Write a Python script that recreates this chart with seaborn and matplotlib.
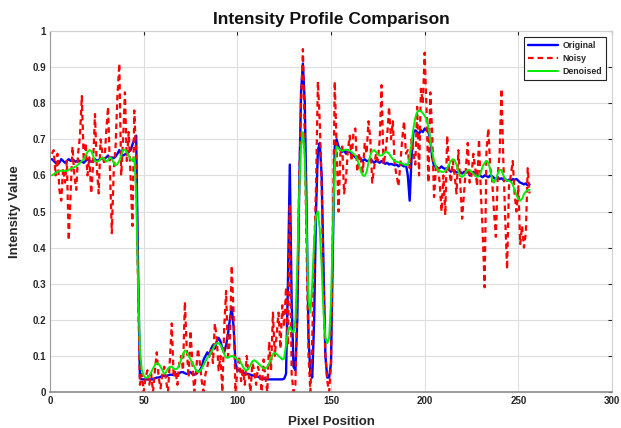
import numpy as np
import pandas as pd
import matplotlib
matplotlib.use("Agg")
import matplotlib.pyplot as plt
import seaborn as sns

pixel = list(range(1, 257))

original = [
    0.645, 0.64, 0.635, 0.63, 0.635, 0.645, 0.64, 0.635, 0.64, 0.645,
    0.64, 0.645, 0.64, 0.638, 0.642, 0.64, 0.638, 0.635, 0.64, 0.645,
    0.64, 0.638, 0.64, 0.645, 0.64, 0.643, 0.645, 0.648, 0.645, 0.65,
    0.655, 0.645, 0.65, 0.648, 0.652, 0.66, 0.67, 0.66, 0.655, 0.658,
    0.66, 0.665, 0.67, 0.685, 0.70, 0.71, 0.35, 0.04, 0.035, 0.035,
    0.035, 0.035, 0.035, 0.035, 0.035, 0.038, 0.04, 0.04, 0.042, 0.045,
    0.045, 0.044, 0.046, 0.048, 0.048, 0.047, 0.05, 0.05, 0.052, 0.055,
    0.055, 0.052, 0.05, 0.052, 0.055, 0.05, 0.048, 0.05, 0.055, 0.06,
    0.07, 0.09, 0.10, 0.11, 0.10, 0.12, 0.13, 0.12, 0.14, 0.15,
    0.14, 0.12, 0.11, 0.13, 0.16, 0.20, 0.235, 0.18, 0.08, 0.06,
    0.06, 0.058, 0.055, 0.052, 0.05, 0.05, 0.048, 0.046, 0.045, 0.044,
    0.042, 0.04, 0.038, 0.037, 0.036, 0.035, 0.035, 0.035, 0.035, 0.035,
    0.035, 0.035, 0.035, 0.035, 0.037, 0.05, 0.30, 0.63, 0.25, 0.07,
    0.06, 0.20, 0.55, 0.83, 0.91, 0.80, 0.50, 0.15, 0.05, 0.04,
    0.20, 0.50, 0.67, 0.69, 0.60, 0.35, 0.10, 0.04, 0.04, 0.08,
    0.40, 0.68, 0.70, 0.68, 0.67, 0.665, 0.67, 0.66, 0.67, 0.665,
    0.66, 0.655, 0.65, 0.648, 0.652, 0.645, 0.64, 0.645, 0.64, 0.64,
    0.645, 0.64, 0.635, 0.64, 0.638, 0.635, 0.64, 0.635, 0.632, 0.635,
    0.63, 0.632, 0.63, 0.628, 0.63, 0.625, 0.63, 0.628, 0.625, 0.63,
    0.60, 0.53, 0.65, 0.72, 0.725, 0.72, 0.715, 0.725, 0.72, 0.73,
    0.725, 0.72, 0.70, 0.65, 0.625, 0.625, 0.62, 0.62, 0.625, 0.62,
    0.618, 0.62, 0.615, 0.61, 0.615, 0.612, 0.608, 0.61, 0.61, 0.605,
    0.61, 0.607, 0.612, 0.60, 0.605, 0.61, 0.60, 0.598, 0.60, 0.598,
    0.595, 0.60, 0.598, 0.595, 0.60, 0.598, 0.593, 0.59, 0.595, 0.59,
    0.592, 0.588, 0.59, 0.585, 0.588, 0.585, 0.59, 0.588, 0.59, 0.585,
    0.58, 0.578, 0.575, 0.578, 0.572, 0.575,
]

noisy = [
    0.66, 0.67, 0.60, 0.66, 0.56, 0.53, 0.62, 0.58, 0.64, 0.42,
    0.55, 0.68, 0.60, 0.56, 0.66, 0.71, 0.82, 0.64, 0.69, 0.60,
    0.65, 0.55, 0.63, 0.77, 0.62, 0.55, 0.70, 0.66, 0.63, 0.72,
    0.79, 0.62, 0.44, 0.61, 0.68, 0.82, 0.91, 0.60, 0.70, 0.83,
    0.64, 0.72, 0.60, 0.46, 0.78, 0.65, 0.30, 0.02, 0.05, 0.00,
    0.04, 0.06, 0.02, 0.05, 0.00, 0.06, 0.11, 0.04, 0.01, 0.05,
    0.07, 0.03, 0.00, 0.09, 0.19, 0.04, 0.06, 0.02, 0.08, 0.10,
    0.06, 0.25, 0.12, 0.04, 0.17, 0.08, 0.00, 0.06, 0.12, 0.08,
    0.03, 0.00, 0.05, 0.07, 0.10, 0.12, 0.08, 0.19, 0.15, 0.06,
    0.10, 0.00, 0.18, 0.28, 0.10, 0.14, 0.35, 0.22, 0.00, 0.06,
    0.10, 0.03, 0.06, 0.02, 0.10, 0.05, 0.00, 0.08, 0.06, 0.02,
    0.07, 0.05, 0.00, 0.09, 0.04, 0.00, 0.14, 0.06, 0.22, 0.10,
    0.16, 0.22, 0.12, 0.24, 0.18, 0.29, 0.13, 0.52, 0.05, 0.00,
    0.02, 0.25, 0.57, 0.80, 0.95, 0.70, 0.39, 0.10, 0.00, 0.15,
    0.38, 0.57, 0.86, 0.75, 0.57, 0.30, 0.10, 0.03, 0.00, 0.08,
    0.45, 0.86, 0.68, 0.50, 0.66, 0.68, 0.55, 0.59, 0.67, 0.71,
    0.64, 0.72, 0.73, 0.61, 0.66, 0.64, 0.61, 0.69, 0.66, 0.75,
    0.70, 0.58, 0.62, 0.66, 0.64, 0.70, 0.85, 0.63, 0.66, 0.71,
    0.79, 0.70, 0.75, 0.63, 0.60, 0.57, 0.63, 0.70, 0.75, 0.66,
    0.67, 0.62, 0.70, 0.66, 0.63, 0.79, 0.60, 0.84, 0.80, 0.94,
    0.78, 0.58, 0.83, 0.72, 0.54, 0.62, 0.63, 0.58, 0.50, 0.60,
    0.49, 0.71, 0.62, 0.58, 0.64, 0.60, 0.55, 0.67, 0.58, 0.48,
    0.55, 0.62, 0.69, 0.58, 0.60, 0.66, 0.62, 0.57, 0.70, 0.55,
    0.44, 0.29, 0.67, 0.73, 0.62, 0.59, 0.50, 0.43, 0.60, 0.66,
    0.84, 0.64, 0.48, 0.34, 0.57, 0.60, 0.64, 0.55, 0.50, 0.57,
    0.41, 0.46, 0.40, 0.44, 0.62, 0.55,
]

denoised = [
    0.60, 0.603, 0.607, 0.61, 0.612, 0.613, 0.613, 0.612, 0.613, 0.615,
    0.618, 0.62, 0.623, 0.625, 0.63, 0.635, 0.64, 0.645, 0.655, 0.665,
    0.67, 0.668, 0.655, 0.64, 0.638, 0.64, 0.645, 0.65, 0.645, 0.638,
    0.642, 0.65, 0.645, 0.635, 0.628, 0.632, 0.64, 0.655, 0.67, 0.672,
    0.665, 0.655, 0.645, 0.64, 0.65, 0.55, 0.30, 0.12, 0.06, 0.045,
    0.04, 0.04, 0.045, 0.055, 0.065, 0.075, 0.08, 0.078, 0.07, 0.06,
    0.05, 0.055, 0.065, 0.07, 0.07, 0.065, 0.063, 0.065, 0.075, 0.09,
    0.105, 0.115, 0.11, 0.10, 0.09, 0.08, 0.07, 0.06, 0.055, 0.058,
    0.065, 0.075, 0.085, 0.095, 0.10, 0.11, 0.12, 0.13, 0.135, 0.135,
    0.13, 0.12, 0.105, 0.095, 0.095, 0.098, 0.10, 0.098, 0.095, 0.09,
    0.088, 0.08, 0.07, 0.062, 0.06, 0.065, 0.075, 0.085, 0.088, 0.085,
    0.08, 0.075, 0.07, 0.065, 0.065, 0.07, 0.08, 0.095, 0.105, 0.108,
    0.105, 0.10, 0.095, 0.09, 0.093, 0.13, 0.17, 0.18, 0.17, 0.165,
    0.20, 0.35, 0.55, 0.68, 0.72, 0.65, 0.45, 0.25, 0.22, 0.30,
    0.42, 0.49, 0.50, 0.45, 0.35, 0.22, 0.15, 0.135, 0.15, 0.25,
    0.45, 0.63, 0.68, 0.675, 0.67, 0.668, 0.67, 0.672, 0.67, 0.668,
    0.665, 0.66, 0.655, 0.645, 0.63, 0.61, 0.60, 0.598, 0.61, 0.635,
    0.655, 0.668, 0.67, 0.665, 0.658, 0.655, 0.655, 0.66, 0.665, 0.665,
    0.66, 0.652, 0.645, 0.64, 0.638, 0.636, 0.635, 0.633, 0.63, 0.628,
    0.63, 0.65, 0.69, 0.73, 0.76, 0.775, 0.78, 0.778, 0.772, 0.765,
    0.755, 0.735, 0.70, 0.665, 0.64, 0.625, 0.615, 0.612, 0.61, 0.61,
    0.612, 0.62, 0.63, 0.64, 0.645, 0.642, 0.63, 0.61, 0.598, 0.596,
    0.60, 0.608, 0.615, 0.615, 0.61, 0.605, 0.60, 0.596, 0.598, 0.61,
    0.625, 0.635, 0.64, 0.635, 0.615, 0.59, 0.58, 0.59, 0.605, 0.615,
    0.615, 0.60, 0.59, 0.585, 0.585, 0.582, 0.575, 0.56, 0.545, 0.535,
    0.53, 0.535, 0.548, 0.555, 0.56, 0.56,
]

x_ticks = [0, 50, 100, 150, 200, 250, 300]
y_ticks = [0, 0.1, 0.2, 0.3, 0.4, 0.5, 0.6, 0.7, 0.8, 0.9, 1]
y_tick_labels = ["0", "0.1", "0.2", "0.3", "0.4", "0.5", "0.6", "0.7", "0.8", "0.9", "1"]

sns.set_style("whitegrid")
plt.rcParams["font.family"] = ["Liberation Sans", "DejaVu Sans"]

df = pd.DataFrame({"pixel": pixel, "Original": original, "Noisy": noisy, "Denoised": denoised})

fig = plt.figure(figsize=(6.21, 4.28), dpi=100)
ax = fig.add_axes([50 / 621, 1 - 392 / 428, 562 / 621, 361 / 428])

sns.lineplot(data=df, x="pixel", y="Original", ax=ax, color="#0000ff", linewidth=1.7,
             label="Original", estimator=None, sort=False)
sns.lineplot(data=df, x="pixel", y="Noisy", ax=ax, color="#ff0000", linewidth=1.6,
             label="Noisy", estimator=None, sort=False)
ax.lines[-1].set_dashes((2.5, 1.8))
sns.lineplot(data=df, x="pixel", y="Denoised", ax=ax, color="#00ee00", linewidth=1.4,
             label="Denoised", estimator=None, sort=False)

ax.set_xlim(0, 300)
ax.set_ylim(0, 1)
ax.set_xticks(x_ticks)
ax.set_yticks(y_ticks)
ax.set_yticklabels(y_tick_labels)
ax.tick_params(axis="both", which="both", direction="in", length=3, labelsize=7,
               colors="#262626", top=True, right=True, pad=3)
for lab in ax.get_xticklabels() + ax.get_yticklabels():
    lab.set_fontweight("bold")
ax.grid(True, color="#dedede", linewidth=0.8)
for side, sp in ax.spines.items():
    sp.set_visible(True)
    sp.set_linewidth(0.8)
    sp.set_color("#9a9a9a" if side in ("left", "bottom") else "#d0d0d0")
ax.spines["bottom"].set_color("#8a8a8a")
ax.spines["bottom"].set_linewidth(1.2)

ax.set_title("Intensity Profile Comparison", fontsize=12.5, fontweight="bold", color="#111111", pad=5)
ax.set_xlabel("Pixel Position", fontsize=9.5, fontweight="bold", color="#262626", labelpad=7)
ax.set_ylabel("Intensity Value", fontsize=9.5, fontweight="bold", color="#262626", labelpad=8)

leg = ax.legend(loc="upper right", fontsize=6.3, frameon=True, fancybox=False, framealpha=1,
                edgecolor="#222222", handlelength=3.4, borderaxespad=0.7, handletextpad=0.5,
                labelspacing=0.45, borderpad=0.45)
leg.get_frame().set_linewidth(0.8)
for t in leg.get_texts():
    t.set_fontweight("bold")

fig.savefig("out.png", dpi=100)
